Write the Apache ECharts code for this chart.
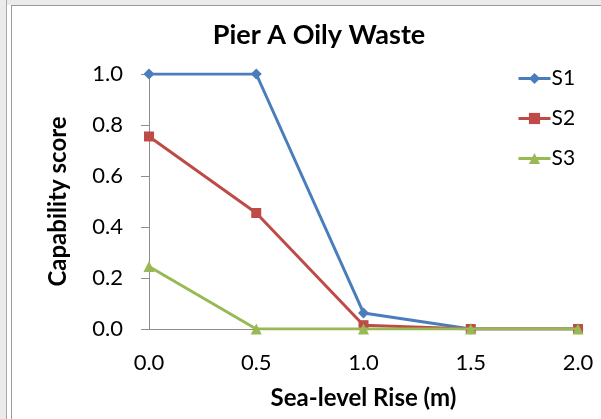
<!DOCTYPE html>
<html>
<head>
<meta charset="utf-8">
<script src="https://cdn.jsdelivr.net/npm/echarts@6/dist/echarts.min.js"></script>
<style>
  html, body { margin: 0; padding: 0; background: #ffffff; }
  #chart { width: 601px; height: 419px; }
</style>
</head>
<body>
<div id="chart"></div>
<script>
// Sea-level rise scenarios (m) and capability scores per strategy
const seaLevelRise = [0.0, 0.5, 1.0, 1.5, 2.0];
const s1Scores = [1.0, 1.0, 0.063, 0.0, 0.0];
const s2Scores = [0.755, 0.455, 0.015, 0.0, 0.0];
const s3Scores = [0.245, 0.0, 0.0, 0.0, 0.0];
const seriesNames = ['S1', 'S2', 'S3'];

const FONT = 'Lato, "Open Sans", sans-serif';

function pairs(xs, ys) {
  return xs.map((x, i) => [x, ys[i]]);
}

const chart = echarts.init(document.getElementById('chart'));

chart.setOption({
  backgroundColor: '#ffffff',
  animation: false,
  graphic: [
    // window frame strips along the top and left edges
    { type: 'rect', shape: { x: 0, y: 0, width: 601, height: 5 }, style: { fill: '#ebebeb' }, silent: true },
    { type: 'rect', shape: { x: 0, y: 0, width: 6, height: 419 }, style: { fill: '#ebebeb' }, silent: true },
    { type: 'line', shape: { x1: 11, y1: 5.5, x2: 601, y2: 5.5 }, style: { stroke: '#9a9a9a', lineWidth: 1 }, silent: true },
    { type: 'line', shape: { x1: 6.5, y1: 0, x2: 6.5, y2: 419 }, style: { stroke: '#a8a8a8', lineWidth: 1 }, silent: true },
    { type: 'line', shape: { x1: 11.5, y1: 5, x2: 11.5, y2: 419 }, style: { stroke: '#9a9a9a', lineWidth: 1 }, silent: true }
  ],
  title: {
    text: 'Pier A Oily Waste',
    left: 314,
    textAlign: 'center',
    top: 17,
    textStyle: { fontFamily: FONT, fontSize: 27, fontWeight: 'bold', color: '#000000' }
  },
  legend: {
    data: seriesNames,
    orient: 'vertical',
    left: 512,
    top: 63,
    itemGap: 19,
    itemWidth: 32,
    itemHeight: 14,
    lineStyle: { width: 3 },
    textStyle: { fontFamily: FONT, fontSize: 21, lineHeight: 21, color: '#000000', padding: [0, 0, 0, -4] }
  },
  grid: { left: 149, right: 23, top: 74, bottom: 90, containLabel: false, outerBoundsMode: 'none' },
  xAxis: {
    type: 'value',
    min: 0,
    max: 2,
    interval: 0.5,
    name: 'Sea-level Rise (m)',
    nameLocation: 'middle',
    nameGap: 57,
    nameTextStyle: { fontFamily: FONT, fontSize: 24, fontWeight: 'bold', color: '#000000' },
    axisLine: { show: true, onZero: true, lineStyle: { color: '#8c8c8c', width: 1 } },
    axisTick: { show: false },
    splitLine: { show: false },
    axisLabel: {
      fontFamily: FONT, fontSize: 22, color: '#000000', margin: 23,
      formatter: v => v.toFixed(1)
    }
  },
  yAxis: {
    type: 'value',
    min: 0,
    max: 1,
    interval: 0.2,
    name: 'Capability score',
    nameLocation: 'middle',
    nameGap: 79,
    nameRotate: 90,
    nameTextStyle: { fontFamily: FONT, fontSize: 24, fontWeight: 'bold', color: '#000000' },
    axisLine: { show: true, lineStyle: { color: '#8c8c8c', width: 1 } },
    axisTick: { show: true, inside: false, length: 8, lineStyle: { color: '#8c8c8c' } },
    splitLine: { show: false },
    axisLabel: {
      fontFamily: FONT, fontSize: 22, color: '#000000', margin: 26,
      formatter: v => v.toFixed(1)
    }
  },
  series: [
    {
      name: seriesNames[0], type: 'line', data: pairs(seaLevelRise, s1Scores),
      symbol: 'diamond', symbolSize: 11,
      lineStyle: { color: '#4a7ebb', width: 3 },
      itemStyle: { color: '#4a7ebb' }, z: 3
    },
    {
      name: seriesNames[1], type: 'line', data: pairs(seaLevelRise, s2Scores),
      symbol: 'rect', symbolSize: 10,
      lineStyle: { color: '#be4b48', width: 3 },
      itemStyle: { color: '#be4b48' }, z: 4
    },
    {
      name: seriesNames[2], type: 'line', data: pairs(seaLevelRise, s3Scores),
      symbol: 'triangle', symbolSize: 11,
      lineStyle: { color: '#98b954', width: 3 },
      itemStyle: { color: '#98b954' }, z: 5
    }
  ]
});
</script>
</body>
</html>
